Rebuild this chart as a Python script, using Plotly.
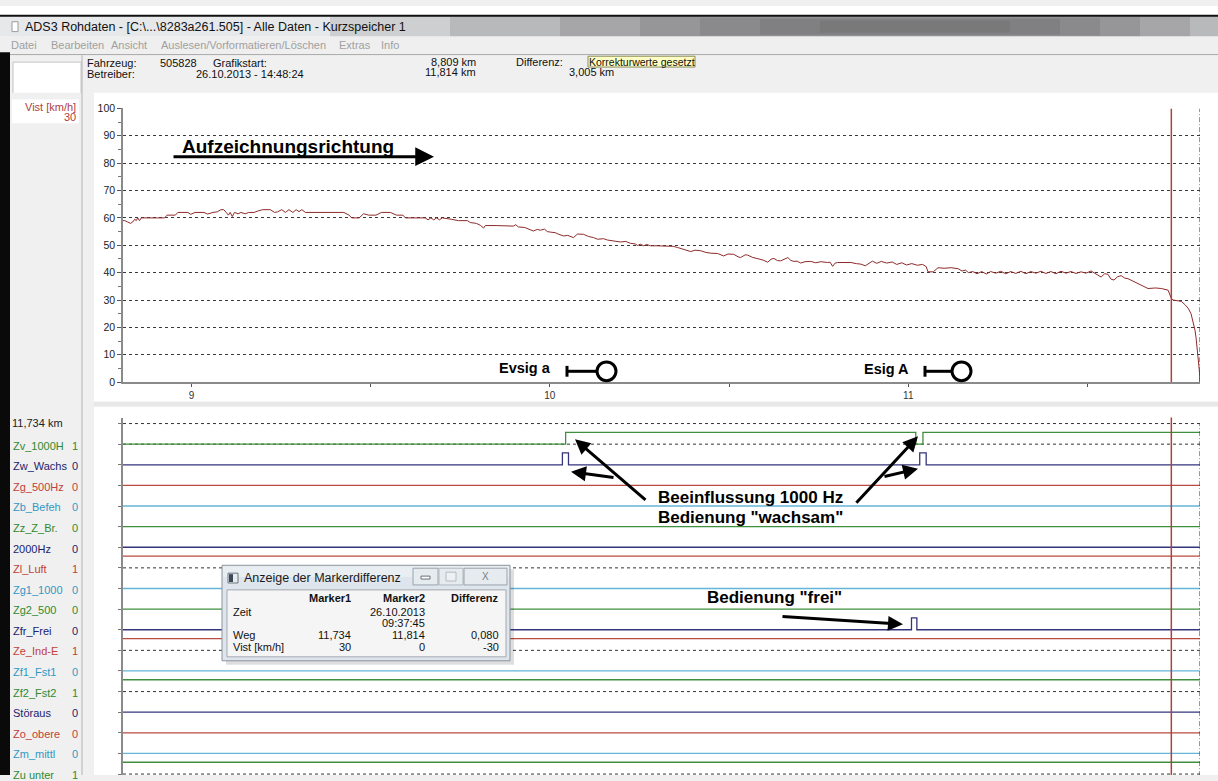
import plotly.graph_objects as go

W, H = 1218, 781

# ---------------- data ----------------
WINDOW_TITLE = "ADS3 Rohdaten - [C:\\...\\8283a261.505] - Alle Daten - Kurzspeicher 1"
MENU_ITEMS = ["Datei", "Bearbeiten", "Ansicht", "Auslesen/Vorformatieren/Löschen", "Extras", "Info"]
VEHICLE = "505828"
START_TIME = "26.10.2013 - 14:48:24"
START_KM_TEXT = "8,809 km"
END_KM_TEXT = "11,814 km"
DIFF_KM_TEXT = "3,005 km"
FLAG_TEXT = "Korrekturwerte gesetzt"

KM_START = 8.809
KM_END = 11.814
MARKER1_KM = 11.734
MARKER1_V = 30

X_TICK_VALS = [9.0, 9.5, 10.0, 10.5, 11.0, 11.5]
X_TICK_TEXT = ["9", "", "10", "", "11", ""]
Y_TICK_VALS = [0, 10, 20, 30, 40, 50, 60, 70, 80, 90, 100]
Y_MINOR_VALS = [5, 15, 25, 35, 45, 55, 65, 75, 85, 95]

SPEED_KM = [8.809, 8.814, 8.822, 8.830, 8.836, 8.842, 8.846, 8.850, 8.855, 8.860,
            8.905, 8.925, 8.932, 8.955, 8.962, 8.990, 8.998, 9.010, 9.035, 9.045,
            9.060, 9.072, 9.082, 9.090, 9.097, 9.103, 9.108, 9.114, 9.120, 9.130,
            9.138, 9.150, 9.160, 9.175, 9.185, 9.198, 9.220, 9.232, 9.240, 9.252,
            9.262, 9.272, 9.283, 9.292, 9.300, 9.308, 9.318, 9.340, 9.400, 9.425,
            9.440, 9.447, 9.468, 9.480, 9.495, 9.515, 9.530, 9.555, 9.572, 9.590,
            9.597, 9.652, 9.660, 9.668, 9.676, 9.684, 9.692, 9.700, 9.725, 9.745,
            9.770, 9.778, 9.795, 9.806, 9.815, 9.820, 9.850, 9.890, 9.898, 9.905,
            9.912, 9.930, 9.954, 9.965, 9.974, 9.985, 9.993, 10.002, 10.015, 10.025,
            10.038, 10.050, 10.060, 10.066, 10.077, 10.094, 10.108, 10.122, 10.133, 10.150,
            10.161, 10.178, 10.197, 10.212, 10.225, 10.238, 10.245, 10.252, 10.262, 10.270,
            10.281, 10.300, 10.329, 10.345, 10.356, 10.373, 10.393, 10.405, 10.421, 10.435,
            10.449, 10.468, 10.485, 10.497, 10.513, 10.525, 10.532, 10.545, 10.552, 10.565,
            10.580, 10.595, 10.608, 10.617, 10.625, 10.635, 10.644, 10.655, 10.664, 10.672,
            10.681, 10.690, 10.700, 10.712, 10.728, 10.742, 10.756, 10.775, 10.782, 10.789,
            10.796, 10.803, 10.820, 10.840, 10.855, 10.868, 10.880, 10.890, 10.900, 10.912,
            10.925, 10.940, 10.955, 10.968, 10.982, 10.995, 11.010, 11.025, 11.040, 11.050,
            11.055, 11.070, 11.083, 11.100, 11.120, 11.140, 11.150, 11.160, 11.168, 11.180,
            11.192, 11.205, 11.218, 11.230, 11.244, 11.258, 11.272, 11.286, 11.300, 11.314,
            11.328, 11.342, 11.356, 11.370, 11.384, 11.398, 11.412, 11.426, 11.440, 11.454,
            11.468, 11.482, 11.496, 11.510, 11.520, 11.538, 11.548, 11.557, 11.566, 11.574,
            11.584, 11.594, 11.604, 11.613, 11.627, 11.641, 11.655, 11.669, 11.690, 11.706,
            11.725, 11.734, 11.739, 11.750, 11.762, 11.772, 11.781, 11.789, 11.795, 11.800,
            11.803, 11.806, 11.809, 11.812, 11.814]
SPEED_V = [59, 59, 58.5, 58, 58.5, 59.5, 59, 60, 59, 60,
           60, 60, 61, 61, 62, 62, 61.3, 62, 62, 61.4,
           62, 62.2, 63, 63, 62, 61, 62, 60.5, 62, 61.5,
           62, 61.5, 62, 62, 62.5, 63, 63, 62, 62.2, 63,
           62, 63, 62, 63, 62.3, 63, 62, 62, 62, 62,
           61, 60, 60, 61.5, 61, 61, 62, 62, 61, 61,
           60, 60, 59.3, 60, 59.3, 60, 59.3, 60, 59.5, 59,
           59, 58.3, 58, 57.3, 56.3, 57.2, 57.2, 57.2, 57, 57.5,
           56.7, 56.5, 55.2, 55.8, 55.5, 55.9, 55, 54.8, 54.6, 54,
           53.4, 53.6, 53, 52.8, 54.1, 54, 53.2, 52.8, 52.2, 52.4,
           51.9, 51.6, 51.2, 51.4, 50.7, 50.5, 49.9, 50.4, 49.8, 50.3,
           49.8, 49.8, 49.8, 49.6, 49.2, 48.6, 47.7, 48.2, 48, 47.4,
           47.1, 47, 46.1, 46.8, 46.7, 45.8, 45.5, 46.5, 46.4, 45.6,
           45.2, 44.6, 43.8, 44.9, 45.2, 44.4, 44.3, 45.0, 45.5, 44.5,
           44.1, 44.2, 43.5, 44.0, 44.1, 43.6, 44, 43.7, 43.8, 42.3,
           43.5, 43.7, 43.7, 43.7, 43.3, 43.1, 42.5, 43.5, 44.2, 43.4,
           44.1, 43.5, 43.9, 43.0, 43.6, 42.8, 43.3, 42.7, 43.0, 42.2,
           40.3, 40.3, 41.8, 41.6, 41.8, 41.4, 40.6, 40.9, 40.0, 40.4,
           39.6, 40.4, 39.5, 40.4, 39.8, 40.5, 39.6, 40.4, 39.7, 40.5,
           39.6, 40.4, 39.8, 40.5, 39.7, 40.4, 39.6, 40.5, 39.8, 40.4,
           39.7, 40.3, 39.8, 40.6, 39.8, 38.4, 39.6, 39.4, 37.6, 37.3,
           38.5, 38.9, 38.0, 37.8, 36.9, 36.0, 35.0, 34.2, 34.4, 34.2,
           33.6, 30.6, 30.0, 29.8, 29.5, 28.3, 27.0, 25.0, 22.2, 19.0,
           16.2, 12.5, 9.0, 4.5, 0]

CHANNEL_NAMES = ["Zv_1000H", "Zw_Wachs", "Zg_500Hz", "Zb_Befeh", "Zz_Z_Br.", "2000Hz",
                 "Zl_Luft", "Zg1_1000", "Zg2_500", "Zfr_Frei", "Ze_Ind-E", "Zf1_Fst1",
                 "Zf2_Fst2", "Störaus", "Zo_obere", "Zm_mittl", "Zu unter"]
CHANNEL_AT_MARKER = [1, 0, 0, 0, 0, 0, 1, 0, 0, 0, 1, 0, 1, 0, 0, 0, 1]
CHANNEL_START_STATE = [0, 0, 0, 0, 0, 0, 1, 0, 0, 0, 1, 0, 1, 0, 0, 0, 1]
CHANNEL_SWITCH_KM = {
    "Zv_1000H": [10.044, 11.021, 11.041],
    "Zw_Wachs": [10.035, 10.052, 11.032, 11.050],
    "Zfr_Frei": [11.009, 11.024],
}

DIALOG_TITLE = "Anzeige der Markerdifferenz"
DIALOG_COLS = ["Marker1", "Marker2", "Differenz"]
DIALOG_WEG = ["11,734", "11,814", "0,080"]
DIALOG_VIST = ["30", "0", "-30"]
DIALOG_DATE = "26.10.2013"
DIALOG_TIME = "09:37:45"

# ---------------- style helpers ----------------
UI = "Liberation Sans Narrow, Arial Narrow, Liberation Sans, Arial, sans-serif"
UI2 = "Liberation Sans, Arial, sans-serif"
LINE_COLORS = ["#3f8f3f", "#34347c", "#b84a40", "#64b5d8"]
LABEL_COLORS = ["#2f8a2f", "#22226c", "#c0403a", "#3098c4"]

X0_PX, X1_PX = 123, 1200
TOP_Y0_PX, TOP_Y1_PX = 104, 382
BOT_TOP_PX = 418
ROW0_PX, ROW_PX = 445, 20.94
HIGH = 12 / ROW_PX

shapes, annos = [], []


def px(x):
    return x / W


def py(y):
    return 1 - y / H


def rect(x0, y0, x1, y1, fill, line=None, lw=1, layer="below"):
    shapes.append(dict(type="rect", xref="paper", yref="paper", x0=px(x0), x1=px(x1),
                       y0=py(y1), y1=py(y0), fillcolor=fill, layer=layer,
                       line=dict(color=line if line else "rgba(0,0,0,0)", width=lw if line else 0)))


def seg(x0, y0, x1, y1, color, width=1, dash=None, layer="above"):
    d = dict(type="line", xref="paper", yref="paper", x0=px(x0), x1=px(x1),
             y0=py(y0), y1=py(y1), layer=layer, line=dict(color=color, width=width))
    if dash:
        d["line"]["dash"] = dash
    shapes.append(d)


def circ(cx, cy, r, color, width=3):
    shapes.append(dict(type="circle", xref="paper", yref="paper", x0=px(cx - r), x1=px(cx + r),
                       y0=py(cy + r), y1=py(cy - r), fillcolor="white", layer="above",
                       line=dict(color=color, width=width)))


def txt(x, y, s, size=11, color="#111", anchor="left", family=UI):
    annos.append(dict(xref="paper", yref="paper", x=px(x), y=py(y), text=s, showarrow=False,
                      xanchor=anchor, yanchor="middle", borderpad=0,
                      font=dict(size=size, color=color, family=family)))


def arrow(hx, hy, tx, ty, width=3, size=1.0):
    annos.append(dict(xref="paper", yref="paper", x=px(hx), y=py(hy), ax=tx - hx, ay=ty - hy,
                      axref="pixel", ayref="pixel", text="", showarrow=True, arrowhead=2,
                      arrowsize=size, arrowwidth=width, arrowcolor="#000", standoff=0))


# ---------------- window chrome ----------------
rect(0, 0, W, 10, "#ffffff")
rect(0, 10, W, 31, "#e6e8ea")
# blurred dark aero smear: nested translucent bands build a soft gradient
for bx0, bx1, by0, by1, a in [(330, 1218, 10, 31, 0.14), (450, 1218, 10, 31, 0.14),
                              (560, 1190, 10, 31, 0.14), (640, 1140, 11, 31, 0.14),
                              (700, 1100, 12, 30, 0.12), (760, 1060, 13, 29, 0.12),
                              (820, 1010, 15, 27, 0.10)]:
    rect(bx0, by0, bx1, by1, "rgba(55,55,58,%.2f)" % a)
rect(0, 9, W, 11, "#111111")
rect(12, 16, 18, 26, "#ffffff", "#9a9a9a")
txt(24, 21, WINDOW_TITLE, 12.5, "#111", family=UI)

rect(0, 31, W, 49, "#efefef")
menu_x = [10, 50, 110, 160, 338, 380]
for mx, m in zip(menu_x, MENU_ITEMS):
    txt(mx, 40, m, 11, "#a0a0a0", family=UI)
seg(0, 49.5, W, 49.5, "#9a9a9a", 1, layer="below")

# header
rect(0, 50, W, 88, "#f0f0f0")
rect(13, 57, 81, 92, "#ffffff", "#c4c4c4")
txt(86, 58, "Fahrzeug:", 11)
txt(159, 58, VEHICLE, 11)
txt(212, 58, "Grafikstart:", 11)
txt(477, 57, START_KM_TEXT, 11, anchor="right")
txt(515, 57, "Differenz:", 11)
rect(588, 51, 695, 62, "#ffffc4", "#8a8a5a")
txt(641.5, 56.5, FLAG_TEXT, 10.5, "#111", anchor="center")
txt(86, 69, "Betreiber:", 11)
txt(195, 69, START_TIME, 11)
txt(477, 67, END_KM_TEXT, 11, anchor="right")
txt(568, 67, DIFF_KM_TEXT, 11)

# left black border and left panel
rect(0, 47, 10, H, "#0a0a0a")
rect(10, 88, 94, H, "#f0f0f0")
seg(82, 50, 82, H, "#b4b4b4", 1, layer="below")
rect(12, 95, 79, 119, "#ffffff")
txt(77, 103, "Vist [km/h]", 11, "#b04040", anchor="right")
txt(77, 113, str(MARKER1_V), 11, "#b04040", anchor="right")

# chart panels
rect(94, 88, W, 402, "#ffffff")
rect(94, 402, W, 407, "#e8e8e8")
rect(94, 407, W, H, "#ffffff")

# ---------------- top chart: speed ----------------
fig = go.Figure()
fig.add_trace(go.Scatter(x=SPEED_KM, y=SPEED_V, mode="lines", xaxis="x", yaxis="y",
                         line=dict(color="#8e2a2a", width=1), hoverinfo="skip", showlegend=False))

shapes.append(dict(type="line", xref="x", yref="y", x0=MARKER1_KM, x1=MARKER1_KM, y0=0, y1=100,
                   line=dict(color="#a8443c", width=1.5), layer="above"))
shapes.append(dict(type="line", xref="x", yref="y", x0=KM_END, x1=KM_END, y0=0, y1=100,
                   line=dict(color="#333", width=1, dash="5px,2px,1px,2px"), layer="above"))

# ---------------- bottom chart: binary channels ----------------
for i, name in enumerate(CHANNEL_NAMES):
    col = LINE_COLORS[i % 4]
    state = CHANNEL_START_STATE[i]
    xs, st = [KM_START], [state]
    for k in CHANNEL_SWITCH_KM.get(name, []):
        state = 1 - state
        xs.append(k)
        st.append(state)
    xs.append(KM_END)
    st.append(state)
    ys = [-i + s * HIGH for s in st]
    fig.add_trace(go.Scatter(x=xs, y=ys, mode="lines", xaxis="x2", yaxis="y2", line_shape="hv",
                             line=dict(color=col, width=1.3), hoverinfo="skip", showlegend=False))
    if CHANNEL_AT_MARKER[i] == 1:
        shapes.append(dict(type="line", xref="x2 domain", yref="y2", x0=0, x1=1, y0=-i, y1=-i,
                           line=dict(color="#333", width=1, dash="3px,3px"), layer="below"))
    ly = ROW0_PX + 1.5 + i * 20.9
    txt(12, ly, name, 11, LABEL_COLORS[i % 4])
    txt(79, ly, str(CHANNEL_AT_MARKER[i]), 11, LABEL_COLORS[i % 4], anchor="right")

shapes.append(dict(type="line", xref="x2 domain", yref="y2", x0=0, x1=1, y0=1, y1=1,
                   line=dict(color="#333", width=1, dash="3px,3px"), layer="below"))
shapes.append(dict(type="line", xref="x2", yref="y2 domain", x0=MARKER1_KM, x1=MARKER1_KM, y0=0, y1=1,
                   line=dict(color="#a8443c", width=1.5), layer="above"))
shapes.append(dict(type="line", xref="x2", yref="y2", x0=KM_END, x1=KM_END, y0=-16.1, y1=1,
                   line=dict(color="#333", width=1, dash="5px,2px,1px,2px"), layer="above"))

txt(37, 424, "11,734 km", 11, "#222", anchor="center")

# ---------------- hand-drawn annotations ----------------
txt(181, 143, "<b>Aufzeichnungsrichtung</b>", 19, "#000", family=UI2)
arrow(434, 153, 172, 153, width=3, size=1.25)

txt(552, 368, "<b>Evsig a</b>", 14.5, "#000", anchor="right", family=UI2)
seg(567, 365.5, 567, 376.5, "#000", 3)
seg(567, 371, 597, 371, "#000", 3)
circ(606.5, 371, 9.5, "#000", 3)

txt(910, 369, "<b>Esig A</b>", 14.5, "#000", anchor="right", family=UI2)
seg(925, 365.5, 925, 376.5, "#000", 3)
seg(925, 371, 952, 371, "#000", 3)
circ(961.5, 371, 9.5, "#000", 3)

txt(657, 499, "<b>Beeinflussung 1000 Hz</b>", 17, "#000", family=UI2)
txt(657, 519, "<b>Bedienung \"wachsam\"</b>", 17, "#000", family=UI2)
arrow(575, 440, 647, 502)
arrow(571, 473, 615, 479)
arrow(918, 437, 855, 505)
arrow(918, 470, 883, 478)

txt(706, 601, "<b>Bedienung \"frei\"</b>", 17, "#000", family=UI2)
arrow(903, 628, 781, 620)

# ---------------- marker difference dialog ----------------
rect(226, 572, 514, 669, "rgba(0,0,0,0.13)", layer="above")
rect(222, 568, 510, 665, "#dfe5ec", "#8c939c", layer="above")
rect(223, 569, 509, 580, "#e9eef3", layer="above")
rect(227, 593, 506, 661, "#f5f5f5", "#a2a8b0", layer="above")
rect(228, 576, 238, 586, "#e8ecef", "#6c747c", layer="above")
rect(229, 577, 233, 585, "#3a4a5a", layer="above")
txt(243, 581, DIALOG_TITLE, 12.5, "#1a1a1a", family=UI)
rect(413, 571, 438, 588, "#e6ebf0", "#9aa2ac", layer="above")
rect(421, 579, 430, 582, "#ffffff", "#6a7078", layer="above")
rect(439, 571, 463, 588, "#e6ebf0", "#b0b8c0", layer="above")
rect(446, 575, 456, 584, "#eef1f4", "#b4bac2", layer="above")
rect(464, 571, 507, 588, "#e6ebf0", "#9aa2ac", layer="above")
txt(485.5, 579.5, "X", 10, "#7a7f86", anchor="center", family=UI2)

col_right = [352, 426, 500]
for cx, h in zip(col_right, DIALOG_COLS):
    txt(cx, 601, "<b>" + h + "</b>", 11, "#111", anchor="right")
txt(232, 615, "Zeit", 11, "#111")
txt(426, 615, DIALOG_DATE, 11, "#111", anchor="right")
txt(426, 627, DIALOG_TIME, 11, "#111", anchor="right")
txt(232, 639, "Weg", 11, "#111")
txt(232, 651, "Vist [km/h]", 11, "#111")
for cx, v in zip(col_right, DIALOG_WEG):
    txt(cx, 639, v, 11, "#111", anchor="right")
for cx, v in zip(col_right, DIALOG_VIST):
    txt(cx, 651, v, 11, "#111", anchor="right")

# ---------------- layout ----------------
row_ticks = [1] + [-i for i in range(len(CHANNEL_NAMES))]
fig.update_layout(
    width=W, height=H, margin=dict(l=0, r=0, t=0, b=0),
    paper_bgcolor="#f0f0f0", plot_bgcolor="rgba(0,0,0,0)",
    font=dict(family=UI2, size=10, color="#333"),
    showlegend=False,
    xaxis=dict(domain=[px(X0_PX), px(X1_PX)], range=[KM_START, KM_END], anchor="y",
               showline=True, linecolor="#8a8a8a", linewidth=1.5, ticks="outside", ticklen=3,
               tickcolor="#555", tickvals=X_TICK_VALS, ticktext=X_TICK_TEXT,
               tickfont=dict(size=10, color="#333"), showgrid=False, zeroline=False),
    yaxis=dict(domain=[py(TOP_Y1_PX), py(TOP_Y0_PX)], range=[0, 100], anchor="x",
               showline=True, linecolor="#8a8a8a", linewidth=1.5, ticks="outside", ticklen=4,
               tickcolor="#555", tickvals=Y_TICK_VALS, tickfont=dict(size=10.5, color="#222"),
               showgrid=True, gridcolor="#3a3a3a", gridwidth=1, griddash="3px,3px",
               zeroline=False,
               minor=dict(tickvals=Y_MINOR_VALS, ticks="outside", ticklen=3, tickcolor="#777",
                          showgrid=False)),
    xaxis2=dict(domain=[px(X0_PX), px(X1_PX)], range=[KM_START, KM_END], anchor="y2",
                visible=False),
    yaxis2=dict(domain=[0, py(BOT_TOP_PX)],
                range=[-(H - ROW0_PX) / ROW_PX, (ROW0_PX - BOT_TOP_PX) / ROW_PX], anchor="x2",
                showline=True, linecolor="#8a8a8a", linewidth=1.5, ticks="outside", ticklen=3,
                tickcolor="#777", tickvals=row_ticks, showticklabels=False, showgrid=False,
                zeroline=False),
    shapes=shapes, annotations=annos,
)

fig.write_html("out.html", config={"displayModeBar": False},
               post_script="document.body.style.margin='0px';document.body.style.overflow='hidden';")
